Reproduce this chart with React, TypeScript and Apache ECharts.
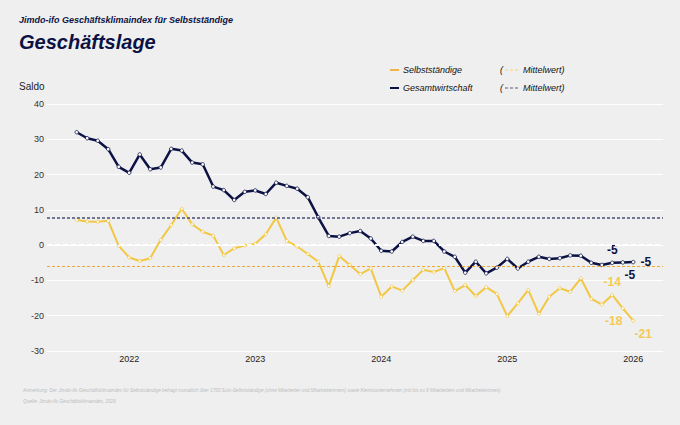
import { useEffect, useRef } from 'react';
import * as echarts from 'echarts';

const months = Array.from({ length: 54 }, (_, i) => {
  const m = 7 + i;
  return `${2021 + Math.floor(m / 12)}-${String((m % 12) + 1).padStart(2, '0')}`;
});

const yearLabels = ['2022', '2023', '2024', '2025', '2026'];

const selbststaendige = [
  7.1, 6.7, 6.6, 6.9, -0.2, -3.5, -4.5, -3.7, 1.5, 5.7, 10.3, 5.9, 3.8, 2.7, -2.8, -0.9, -0.1, 0.4,
  3.1, 7.8, 1.2, -0.4, -2.5, -4.7, -11.6, -3.1, -5.6, -8.2, -6.6, -14.6, -11.7, -12.9, -9.9, -7.0,
  -7.6, -6.5, -13.0, -11.3, -14.4, -11.9, -13.8, -20.1, -16.5, -12.7, -19.5, -14.6, -12.2, -13.2,
  -9.4, -15.2, -16.8, -14.1, -17.9, -21.4,
];

const gesamtwirtschaft = [
  32.0, 30.3, 29.6, 27.2, 22.2, 20.5, 25.7, 21.5, 22.0, 27.3, 26.8, 23.4, 22.9, 16.6, 15.6, 12.8,
  15.1, 15.5, 14.5, 17.7, 16.8, 16.0, 13.6, 7.9, 2.6, 2.4, 3.4, 4.0, 1.9, -1.6, -1.8, 0.9, 2.4, 1.2,
  1.2, -1.8, -3.3, -7.8, -4.7, -8.0, -6.4, -3.9, -6.6, -4.7, -3.3, -3.9, -3.7, -2.9, -3.0, -5.0,
  -5.6, -5.0, -4.9, -4.8,
];

const selbstMean = -5.9;
const gesamtMean = 7.8;

const NAVY = '#0c1244';
const GOLD = '#f2c744';
const GOLD_LABEL = '#f3ca55';
const FONT = '"Liberation Sans", Arial, sans-serif';

// label placement for the last three points of each series
const selbstLabels: Record<number, any> = {
  51: { position: 'top', offset: [0, 0] },
  52: { position: 'bottom', offset: [-9, 0] },
  53: { position: 'bottom', offset: [10, 0] },
};
const gesamtLabels: Record<number, any> = {
  51: { position: 'top', offset: [0, 0] },
  52: { position: 'bottom', offset: [7, -1] },
  53: { position: 'right', offset: [0, 0] },
};

function toData(values: number[], labels: Record<number, any>, color: string) {
  return values.map((v, i) =>
    labels[i]
      ? {
          value: [i, v],
          label: {
            show: true,
            ...labels[i],
            formatter: () => String(Math.round(v)),
            color,
            fontSize: 12,
            fontWeight: 'bold',
            fontFamily: FONT,
          },
        }
      : { value: [i, v] },
  );
}

function legendRow(y: number, name: string, swatch: string, dash: string) {
  const txt = { fill: '#111', font: `italic 9px ${FONT}`, verticalAlign: 'middle' };
  return [
    { type: 'line', shape: { x1: 390, y1: y, x2: 399, y2: y }, style: { stroke: swatch, lineWidth: 2 } },
    { type: 'text', x: 403, y, style: { ...txt, text: name } },
    { type: 'text', x: 500, y, style: { ...txt, text: '(' } },
    {
      type: 'line',
      shape: { x1: 505, y1: y, x2: 520, y2: y },
      style: { stroke: dash, lineWidth: 1, lineDash: [3, 2] },
    },
    { type: 'text', x: 523, y, style: { ...txt, text: 'Mittelwert)' } },
  ];
}

export default function App() {
  const chartRef = useRef<HTMLDivElement | null>(null);

  useEffect(() => {
    if (!chartRef.current) return;
    const chart = echarts.init(chartRef.current, null, { renderer: 'svg' });

    const yearTicks = yearLabels.map((y) => months.indexOf(`${y}-01`));

    chart.setOption({
      animation: false,
      backgroundColor: '#efefef',
      grid: { left: 47, right: 17, top: 104, bottom: 74 },
      xAxis: {
        type: 'value',
        min: -2.83,
        max: 55.83,
        axisLine: { show: false },
        axisTick: { show: false },
        splitLine: { show: false },
        axisLabel: {
          customValues: yearTicks,
          formatter: (v: number) => months[Math.round(v)]?.slice(0, 4) ?? '',
          color: '#222',
          fontSize: 9,
          fontFamily: FONT,
          margin: 3,
        },
      },
      yAxis: {
        type: 'value',
        min: -30,
        max: 40,
        interval: 10,
        axisLine: { show: false },
        axisTick: { show: false },
        splitLine: { lineStyle: { color: '#ffffff', width: 1 } },
        axisLabel: { color: '#333', fontSize: 9, fontFamily: FONT, margin: 3 },
      },
      graphic: [
        {
          type: 'text',
          x: 19,
          y: 20,
          style: {
            text: 'Jimdo-ifo Geschäftsklimaindex für Selbstständige',
            fill: NAVY,
            font: `italic bold 9px ${FONT}`,
            verticalAlign: 'middle',
          },
        },
        {
          type: 'text',
          x: 19,
          y: 42,
          style: {
            text: 'Geschäftslage',
            fill: NAVY,
            font: `italic bold 20px ${FONT}`,
            verticalAlign: 'middle',
          },
        },
        {
          type: 'text',
          x: 19,
          y: 86,
          style: { text: 'Saldo', fill: '#222', font: `10px ${FONT}`, verticalAlign: 'middle' },
        },
        ...legendRow(70, 'Selbstständige', '#f0b448', '#f3d67a'),
        ...legendRow(88, 'Gesamtwirtschaft', NAVY, '#555a7a'),
        {
          type: 'text',
          x: 23,
          y: 390,
          style: {
            text:
              'Anmerkung: Der Jimdo-ifo Geschäftsklimaindex für Selbstständige befragt monatlich über 1700 Solo-Selbstständige (ohne Mitarbeiter und Mitarbeiterinnen) sowie Kleinstunternehmen (mit bis zu 9 Mitarbeitern und Mitarbeiterinnen).',
            fill: '#bdbdbd',
            font: `italic 4.7px ${FONT}`,
            verticalAlign: 'middle',
          },
        },
        {
          type: 'text',
          x: 23,
          y: 401,
          style: {
            text: 'Quelle: Jimdo-ifo Geschäftsklimaindex, 2026',
            fill: '#bdbdbd',
            font: `italic 4.7px ${FONT}`,
            verticalAlign: 'middle',
          },
        },
      ],
      series: [
        {
          type: 'line',
          data: [],
          z: 1,
          silent: true,
          markLine: {
            silent: true,
            symbol: 'none',
            label: { show: false },
            data: [
              { yAxis: 0, lineStyle: { color: '#ffffff', width: 2, type: [5, 3] } },
              { yAxis: gesamtMean, lineStyle: { color: '#4a4f75', width: 1.5, type: [3, 2] } },
              { yAxis: selbstMean, lineStyle: { color: '#eeaa33', width: 1, type: [3, 2] } },
            ],
          },
        },
        {
          name: 'Selbstständige',
          type: 'line',
          z: 3,
          data: toData(selbststaendige, selbstLabels, GOLD_LABEL),
          lineStyle: { color: GOLD, width: 2 },
          itemStyle: { color: '#ffffff', borderColor: GOLD, borderWidth: 0.8 },
          symbol: 'circle',
          symbolSize: 3,
        },
        {
          name: 'Gesamtwirtschaft',
          type: 'line',
          z: 4,
          data: toData(gesamtwirtschaft, gesamtLabels, NAVY),
          lineStyle: { color: NAVY, width: 2.5 },
          itemStyle: { color: '#ffffff', borderColor: NAVY, borderWidth: 0.8 },
          symbol: 'circle',
          symbolSize: 3.5,
        },
      ],
    });

    return () => chart.dispose();
  }, []);

  return (
    <div
      ref={chartRef}
      style={{ position: 'absolute', left: 0, top: 0, width: 680, height: 425, background: '#efefef' }}
    />
  );
}
